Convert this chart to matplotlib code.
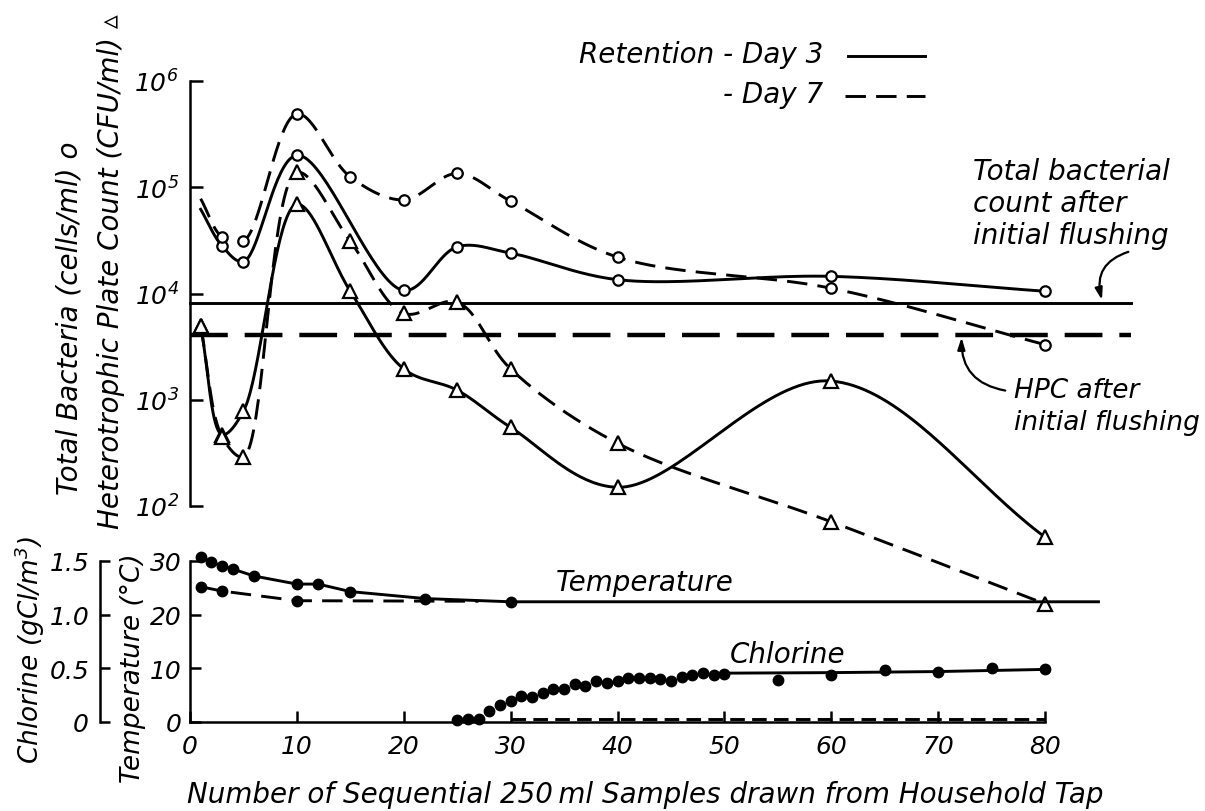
import matplotlib
matplotlib.use('Agg')
import matplotlib.pyplot as plt
import numpy as np
from matplotlib.lines import Line2D

plt.rcParams['font.family'] = ['DejaVu Sans']
plt.rcParams['font.style'] = 'italic'
plt.rcParams['mathtext.fontset'] = 'custom'
plt.rcParams['mathtext.rm'] = 'DejaVu Sans:italic'
plt.rcParams['mathtext.it'] = 'DejaVu Sans:italic'
plt.rcParams['mathtext.default'] = 'it'

# ---- data ----
# Total bacteria (cells/ml), open circles
tb_x_day3 = [1, 3, 5, 10, 20, 25, 30, 40, 60, 80]
tb_day3 = [6.2e4, 2.8e4, 2.0e4, 2.0e5, 1.07e4, 2.75e4, 2.4e4, 1.35e4, 1.45e4, 1.05e4]
tb_x_day7 = [1, 3, 5, 10, 15, 20, 25, 30, 40, 60, 80]
tb_day7 = [7.8e4, 3.4e4, 3.1e4, 4.9e5, 1.25e5, 7.6e4, 1.35e5, 7.4e4, 2.2e4, 1.12e4, 3.3e3]

# Heterotrophic plate count (CFU/ml), open triangles
hpc_x = [1, 3, 5, 10, 15, 20, 25, 30, 40, 60, 80]
hpc_day3 = [4.9e3, 4.7e2, 7.8e2, 6.9e4, 1.05e4, 1.95e3, 1.23e3, 5.5e2, 1.5e2, 1.5e3, 51]
hpc_day7 = [4.9e3, 4.5e2, 2.9e2, 1.38e5, 3.1e4, 6.5e3, 8.3e3, 1.95e3, 3.9e2, 71, 12]

# levels after initial flushing
tb_flush = 8.2e3
hpc_flush = 4.1e3
flush_x = [0, 88]

# Temperature (deg C)
temp_x_day3 = [1, 2, 3, 4, 6, 10, 12, 15, 22, 30, 85]
temp_day3 = [30.7, 29.8, 29.1, 28.5, 27.2, 25.7, 25.7, 24.3, 23.0, 22.4, 22.4]
temp_x_day7 = [1, 3, 10, 27]
temp_day7 = [25.2, 24.4, 22.6, 22.5]

# Chlorine (gCl/m3)
cl_x_day3 = list(range(25, 51)) + [55, 60, 65, 70, 75, 80]
cl_day3 = [0.02, 0.03, 0.03, 0.10, 0.16, 0.20, 0.245, 0.23, 0.27, 0.31, 0.31, 0.355,
           0.34, 0.385, 0.36, 0.38, 0.41, 0.41, 0.41, 0.40, 0.38, 0.415, 0.44, 0.46,
           0.44, 0.45, 0.395, 0.44, 0.48, 0.47, 0.50, 0.49]
cl_trend_x = [50, 60, 70, 80]
cl_trend = [0.455, 0.46, 0.47, 0.49]
cl_x_day7 = [30, 80]
cl_day7 = [0.03, 0.03]

x_ticks = [0, 10, 20, 30, 40, 50, 60, 70, 80]
bact_ticks = [1e2, 1e3, 1e4, 1e5, 1e6]
bact_labels = [r'$10^{2}$', r'$10^{3}$', r'$10^{4}$', r'$10^{5}$', r'$10^{6}$']
temp_ticks = [0, 10, 20, 30]
cl_ticks = [0, 0.5, 1.0, 1.5]
cl_labels = ['0', '0.5', '1.0', '1.5']

W, H = 1205, 812


def fx(px):
    return px / W


def fy(py):
    return 1 - py / H


def smooth(x, y, sx=10.7, sy=106.0, n=40):
    """Centripetal Catmull-Rom curve through the read points (hand-drawn look)."""
    p = np.column_stack([np.asarray(x, float) * sx, np.asarray(y, float) * sy])
    p = np.vstack([2 * p[0] - p[1], p, 2 * p[-1] - p[-2]])
    out = []
    for i in range(len(p) - 3):
        p0, p1, p2, p3 = p[i:i + 4]
        t0 = 0.0
        t1 = t0 + np.linalg.norm(p1 - p0) ** 0.5
        t2 = t1 + np.linalg.norm(p2 - p1) ** 0.5
        t3 = t2 + np.linalg.norm(p3 - p2) ** 0.5
        t = np.linspace(t1, t2, n)[:, None]
        a1 = (t1 - t) / (t1 - t0) * p0 + (t - t0) / (t1 - t0) * p1
        a2 = (t2 - t) / (t2 - t1) * p1 + (t - t1) / (t2 - t1) * p2
        a3 = (t3 - t) / (t3 - t2) * p2 + (t - t2) / (t3 - t2) * p3
        b1 = (t2 - t) / (t2 - t0) * a1 + (t - t0) / (t2 - t0) * a2
        b2 = (t3 - t) / (t3 - t1) * a2 + (t - t1) / (t3 - t1) * a3
        c = (t2 - t) / (t2 - t1) * b1 + (t - t1) / (t2 - t1) * b2
        out.append(c if i == 0 else c[1:])
    c = np.vstack(out)
    return c[:, 0] / sx, c[:, 1] / sy


def log_curve(ax, x, y, **kw):
    cx, cy = smooth(x, np.log10(y))
    ax.plot(cx, 10 ** cy, color='k', clip_on=False, **kw)


fig = plt.figure(figsize=(W / 100, H / 100), dpi=100)
fig.patch.set_facecolor('white')

ax_left, ax_w = fx(190), (1045 - 190) / W
ax_up = fig.add_axes([ax_left, fy(507), ax_w, (507 - 82) / H])
ax_lo = fig.add_axes([ax_left, fy(723), ax_w, (723 - 562) / H])
ax_cl = fig.add_axes([ax_left, fy(723), ax_w, (723 - 562) / H])

LW = 2.1
dash = (0, (7, 3.5))
spine_lw = 1.8
tick_fs = 18

# ---- upper panel: bacteria ----
ax_up.set_yscale('log')
ax_up.set_ylim(1e2, 1e6)
ax_up.set_xlim(0, 80)
for s in ['top', 'right', 'bottom']:
    ax_up.spines[s].set_visible(False)
ax_up.spines['left'].set_linewidth(spine_lw)
ax_up.set_xticks([])
ax_up.set_yticks(bact_ticks)
ax_up.set_yticklabels(bact_labels)
ax_up.yaxis.set_minor_locator(matplotlib.ticker.NullLocator())
ax_up.tick_params(axis='y', direction='in', length=9, width=spine_lw, pad=8, labelsize=tick_fs)
ax_up.patch.set_visible(False)

ax_up.plot(flush_x, [tb_flush, tb_flush], color='k', lw=LW, clip_on=False)
ax_up.plot(flush_x, [hpc_flush, hpc_flush], color='k', lw=3.2, ls=(0, (8.5, 3.8)), clip_on=False)

log_curve(ax_up, tb_x_day3, tb_day3, lw=LW)
log_curve(ax_up, tb_x_day7, tb_day7, lw=LW, ls=dash)
log_curve(ax_up, hpc_x, hpc_day3, lw=LW)
log_curve(ax_up, hpc_x, hpc_day7, lw=LW, ls=dash)

circ = dict(ls='none', marker='o', ms=7.5, mfc='white', mec='k', mew=1.6, clip_on=False, zorder=4)
tri = dict(ls='none', marker='^', ms=10, mfc='white', mec='k', mew=1.6, clip_on=False, zorder=4)
ax_up.plot(tb_x_day3[1:], tb_day3[1:], **circ)
ax_up.plot(tb_x_day7[1:], tb_day7[1:], **circ)
ax_up.plot(hpc_x, hpc_day3, **tri)
ax_up.plot(hpc_x, hpc_day7, **tri)

# ---- lower panel: temperature and chlorine ----
ax_lo.set_xlim(0, 80)
ax_lo.set_ylim(0, 30)
for s in ['top', 'right']:
    ax_lo.spines[s].set_visible(False)
for s in ['left', 'bottom']:
    ax_lo.spines[s].set_linewidth(spine_lw)
ax_lo.set_xticks(x_ticks)
ax_lo.set_xticklabels([str(v) for v in x_ticks])
ax_lo.set_yticks(temp_ticks)
ax_lo.tick_params(direction='in', length=8, width=spine_lw, labelsize=tick_fs)
ax_lo.tick_params(axis='x', pad=9)
ax_lo.tick_params(axis='y', pad=6)
ax_lo.patch.set_visible(False)

ax_lo.plot(temp_x_day3, temp_day3, color='k', lw=LW, clip_on=False)
ax_lo.plot(temp_x_day3[:-1], temp_day3[:-1], ls='none', marker='o', ms=7.5, color='k', clip_on=False)
ax_lo.plot(temp_x_day7, temp_day7, color='k', lw=LW, ls=dash, clip_on=False)
ax_lo.plot(temp_x_day7[:-1], temp_day7[:-1], ls='none', marker='o', ms=7.5, color='k', clip_on=False)

ax_cl.set_xlim(0, 80)
ax_cl.set_ylim(0, 1.5)
for s in ['top', 'right', 'bottom']:
    ax_cl.spines[s].set_visible(False)
ax_cl.spines['left'].set_position(('axes', -0.105))
ax_cl.spines['left'].set_linewidth(spine_lw)
ax_cl.set_xticks([])
ax_cl.set_yticks(cl_ticks)
ax_cl.set_yticklabels(cl_labels)
ax_cl.tick_params(axis='y', direction='in', length=7, width=spine_lw, pad=8, labelsize=tick_fs)
ax_cl.patch.set_visible(False)

ax_cl.plot(cl_trend_x, cl_trend, color='k', lw=LW, clip_on=False)
ax_cl.plot(cl_x_day3, cl_day3, ls='none', marker='o', ms=7.5, color='k', clip_on=False)
ax_cl.plot(cl_x_day7, cl_day7, color='k', lw=LW, ls=(0, (5, 2.5)), clip_on=False)

# ---- text ----
fs = 20
fig.text(fx(70), fy(318), 'Total Bacteria (cells/ml) o', rotation=90, ha='center', va='center', fontsize=fs)
fig.text(fx(111), fy(272), 'Heterotrophic Plate Count (CFU/ml) \u25b5', rotation=90,
         ha='center', va='center', fontsize=fs)
fig.text(fx(30), fy(650), r'Chlorine (gCl/m$^3$)', rotation=90, ha='center', va='center', fontsize=19)
fig.text(fx(133), fy(668), 'Temperature (\u00b0C)', rotation=90, ha='center', va='center', fontsize=19)
fig.text(fx(645), fy(795), 'Number of Sequential 250\u2009ml Samples drawn from Household Tap',
         ha='center', va='center', fontsize=fs)
fig.text(fx(645), fy(583), 'Temperature', ha='center', va='center', fontsize=fs)
fig.text(fx(788), fy(655), 'Chlorine', ha='center', va='center', fontsize=fs)

# legend
fig.text(fx(823), fy(55), 'Retention - Day 3', ha='right', va='center', fontsize=fs)
fig.text(fx(823), fy(95), '- Day 7', ha='right', va='center', fontsize=fs)
fig.add_artist(Line2D([fx(848), fx(925)], [fy(57), fy(57)], color='k', lw=LW))
fig.add_artist(Line2D([fx(845), fx(925)], [fy(97), fy(97)], color='k', lw=LW, ls=dash))

# annotations for the flushing levels
fig.text(fx(973), fy(204), 'Total bacterial\ncount after\ninitial flushing', ha='left', va='center',
         fontsize=fs, linespacing=1.2)
fig.text(fx(1014), fy(407), 'HPC after\ninitial flushing', ha='left', va='center',
         fontsize=19, linespacing=1.3)
arrow = dict(arrowstyle='-|>,head_length=0.7,head_width=0.22', color='k', lw=1.6)
ax_up.annotate('', xy=(85.4, tb_flush), xycoords='data',
               xytext=(fx(1131), fy(252)), textcoords='figure fraction', annotation_clip=False,
               arrowprops=dict(connectionstyle='arc3,rad=0.5', **arrow))
ax_up.annotate('', xy=(72.2, hpc_flush), xycoords='data',
               xytext=(fx(1008), fy(392)), textcoords='figure fraction', annotation_clip=False,
               arrowprops=dict(connectionstyle='arc3,rad=-0.45', **arrow))

fig.savefig('out.png', dpi=100, facecolor='white')
